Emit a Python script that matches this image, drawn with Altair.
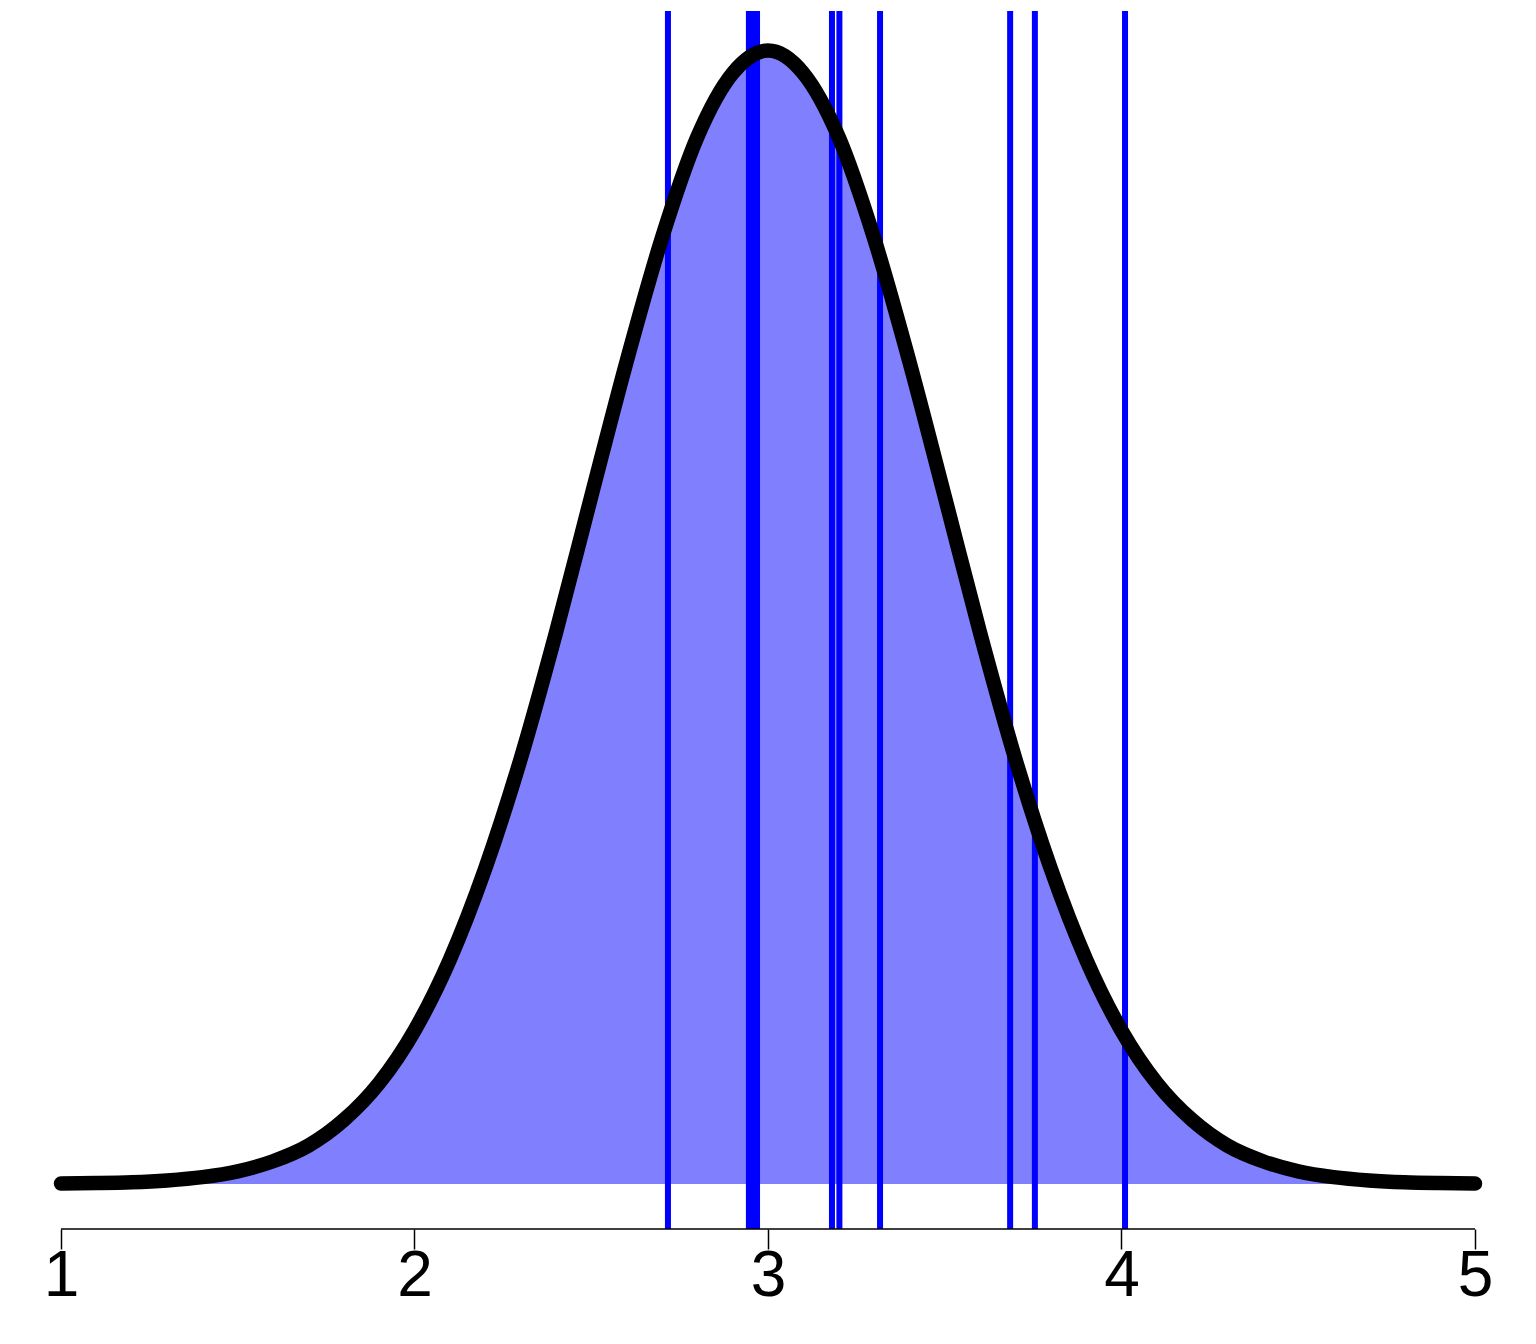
import altair as alt
import pandas as pd

# Density curve (x, density)
curve_x = [1.0, 1.1, 1.2, 1.3, 1.4, 1.5, 1.6, 1.7, 1.8, 1.9,
           2.0, 2.1, 2.2, 2.3, 2.4, 2.5, 2.6, 2.7, 2.8, 2.9,
           3.0, 3.1, 3.2, 3.3, 3.4, 3.5, 3.6, 3.7, 3.8, 3.9,
           4.0, 4.1, 4.2, 4.3, 4.4, 4.5, 4.6, 4.7, 4.8, 4.9, 5.0]
curve_y = [0.0003, 0.0006, 0.0012, 0.0025, 0.0048, 0.0089, 0.016, 0.027, 0.045, 0.071,
           0.108, 0.158, 0.222, 0.299, 0.388, 0.484, 0.579, 0.666, 0.737, 0.782,
           0.798, 0.782, 0.737, 0.666, 0.579, 0.484, 0.388, 0.299, 0.222, 0.158,
           0.108, 0.071, 0.045, 0.027, 0.016, 0.0089, 0.0048, 0.0025, 0.0012, 0.0006, 0.0003]

# Observations drawn as vertical lines
obs = [2.717, 2.946, 2.958, 2.969, 3.181, 3.202, 3.317, 3.685, 3.755, 4.010]

tick_values = [1, 2, 3, 4, 5]

W, H = 1518, 1218

curve = pd.DataFrame({"x": curve_x, "y": curve_y})
obs_df = pd.DataFrame({"obs": obs})
axis_df = pd.DataFrame({"a": [tick_values[0]], "b": [tick_values[-1]]})

xscale = alt.Scale(domain=[0.8501, 5.1443], nice=False, zero=False)
yscale = alt.Scale(domain=[-0.0317, 0.8258], nice=False, zero=False)
xaxis = alt.Axis(values=tick_values, format="d", domain=False, grid=False,
                 ticks=True, tickSize=20, tickWidth=1.5, tickColor="black",
                 labelFontSize=64, labelFont="Liberation Sans", labelColor="black",
                 labelPadding=-5, title=None)

area = alt.Chart(curve).mark_area(color="#8080ff", interpolate="monotone").encode(
    x=alt.X("x:Q", scale=xscale, axis=xaxis),
    y=alt.Y("y:Q", scale=yscale, axis=None),
    y2=alt.datum(0),
)

rules = alt.Chart(obs_df).mark_rule(color="#0000ff", strokeWidth=6).encode(
    x=alt.X("obs:Q", scale=xscale, axis=xaxis),
    y=alt.value(0),
    y2=alt.value(H),
)

line = alt.Chart(curve).mark_line(color="black", strokeWidth=14.5,
                                  strokeCap="round", strokeJoin="round",
                                  interpolate="monotone").encode(
    x=alt.X("x:Q", scale=xscale, axis=xaxis),
    y=alt.Y("y:Q", scale=yscale, axis=None),
)

axis_line = alt.Chart(axis_df).mark_rule(color="black", strokeWidth=1.5).encode(
    x=alt.X("a:Q", scale=xscale, axis=xaxis),
    x2="b:Q",
    y=alt.value(H),
)

chart = alt.layer(area, rules, line, axis_line).properties(
    width=W, height=H, padding=0, background="white"
).configure_view(stroke=None)

chart.save("out.html", embed_options={"renderer": "svg", "actions": False})
